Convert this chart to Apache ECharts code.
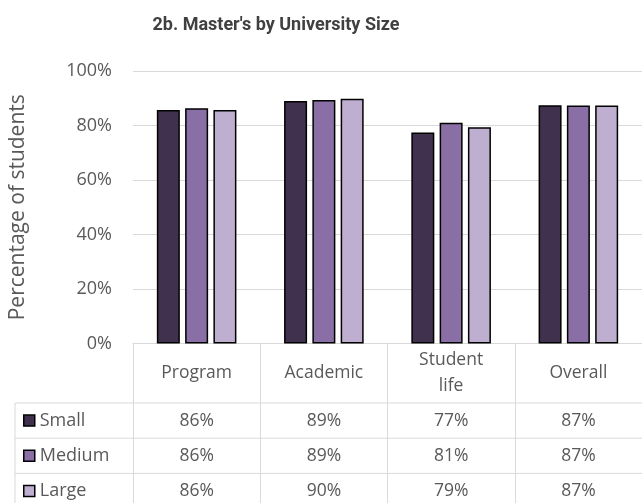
<!DOCTYPE html>
<html>
<head>
<meta charset="utf-8">
<script src="https://cdn.jsdelivr.net/npm/echarts@6/dist/echarts.min.js"></script>
<style>
  html, body {margin: 0; padding: 0; background: #fff;}
  #chartContainer {width: 642px; height: 503px;}
</style>
</head>
<body>
<div id="chartContainer"></div>
<script>
// 数据
var categories = ['Program', 'Academic', 'Student life', 'Overall'];
var seriesNames = ['Small', 'Medium', 'Large'];
var smallValues = [85.7, 89.0, 77.4, 87.4];
var mediumValues = [86.3, 89.4, 81.0, 87.3];
var largeValues = [85.7, 89.8, 79.4, 87.3];
var yTicks = [0, 20, 40, 60, 80, 100];

var colors = ['#40314f', '#8a6fa6', '#beafd1'];
var textColor = '#595959';
var lineColor = '#d9d9d9';
var font = '"Open Sans", sans-serif';

var allValues = [smallValues, mediumValues, largeValues];

// 表格布局
var tableLeft = 15;
var rowTops = [403, 438.2, 473.4];
var rowHeight = 35.2;

var myChart = echarts.init(document.getElementById('chartContainer'));

var series = seriesNames.map(function(name, i) {
    return {
        name: name,
        type: 'bar',
        data: allValues[i],
        barWidth: 23,
        barGap: '23%',
        itemStyle: {
            color: colors[i],
            borderColor: '#000',
            borderWidth: 1.5
        },
        emphasis: {disabled: true}
    };
});

// 每行一个图例
var legends = seriesNames.map(function(name, i) {
    return {
        orient: 'vertical',
        left: 23,
        top: rowTops[i] + rowHeight / 2 - 9,
        padding: 0,
        itemWidth: 11,
        itemHeight: 11,
        icon: 'rect',
        selectedMode: false,
        itemStyle: {borderColor: '#000', borderWidth: 1.5},
        textStyle: {fontSize: 18, color: textColor, lineHeight: 18, padding: [0, 0, 0, 0]},
        data: [name]
    };
});

myChart.setOption({
    animation: false,
    textStyle: {fontFamily: font},
    title: {
        text: "2b. Master's by University Size",
        left: 271,
        textAlign: 'center',
        top: 11,
        textStyle: {fontSize: 18, fontWeight: 'bold', color: '#404040', fontFamily: 'Roboto, sans-serif'}
    },
    grid: {left: 133, right: -9, top: 71, bottom: 159.5},
    legend: legends,
    xAxis: {
        type: 'category',
        data: categories,
        axisLine: {lineStyle: {color: lineColor, width: 1}},
        axisTick: {show: true, length: 170, lineStyle: {color: lineColor}},
        axisLabel: {
            color: textColor,
            fontSize: 17.5,
            lineHeight: 26,
            verticalAlign: 'middle',
            margin: 30,
            interval: 0,
            formatter: function(v) {
                return v.replace(' ', '\n');
            }
        }
    },
    yAxis: {
        type: 'value',
        min: yTicks[0],
        max: yTicks[yTicks.length - 1],
        interval: 20,
        name: 'Percentage of students',
        nameLocation: 'middle',
        nameGap: 104,
        nameTextStyle: {fontSize: 21, color: textColor},
        axisLine: {show: false},
        axisTick: {show: false},
        axisLabel: {
            color: textColor,
            fontSize: 18,
            margin: 21,
            formatter: function(v) { return v + '%'; }
        },
        splitLine: {lineStyle: {color: lineColor, width: 1}}
    },
    series: series
});

// 表格: 横线 + 数值
var graphics = [];
var xRight = myChart.convertToPixel({xAxisIndex: 0}, categories[categories.length - 1]) + 80;
for (var r = 0; r < rowTops.length; r++) {
    graphics.push({
        type: 'line',
        silent: true,
        shape: {x1: tableLeft, y1: rowTops[r], x2: xRight, y2: rowTops[r]},
        style: {stroke: lineColor, lineWidth: 1}
    });
}
graphics.push({
    type: 'line',
    silent: true,
    shape: {x1: tableLeft, y1: rowTops[0], x2: tableLeft, y2: 520},
    style: {stroke: lineColor, lineWidth: 1}
});
for (var s = 0; s < allValues.length; s++) {
    for (var c = 0; c < categories.length; c++) {
        var cx = myChart.convertToPixel({xAxisIndex: 0}, categories[c]);
        graphics.push({
            type: 'text',
            silent: true,
            x: cx,
            y: rowTops[s] + rowHeight / 2,
            style: {
                text: Math.round(allValues[s][c]) + '%',
                fill: textColor,
                font: '17.5px ' + font,
                align: 'center',
                verticalAlign: 'middle'
            }
        });
    }
}
myChart.setOption({graphic: graphics});
</script>
</body>
</html>
